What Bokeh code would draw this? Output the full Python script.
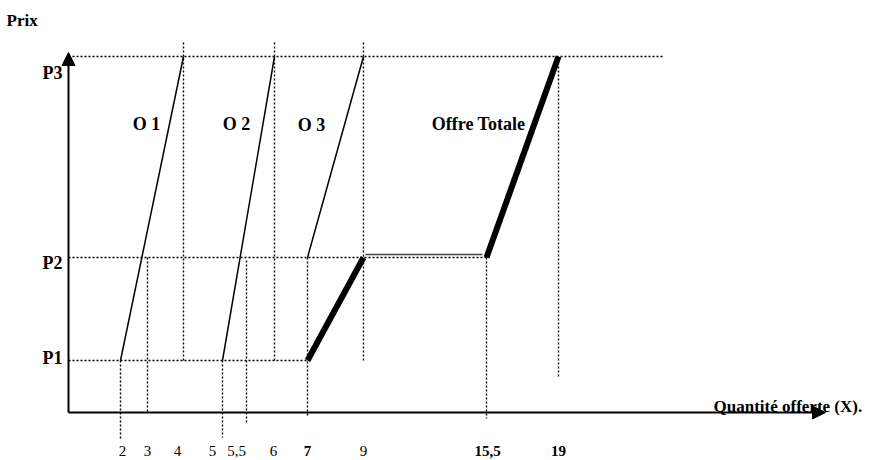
from bokeh.plotting import figure
from bokeh.models import Range1d, Arrow, NormalHead
from bokeh.core.properties import value
from bokeh.embed import file_html
from bokeh.resources import INLINE

# ---- data (schematic diagram, axis not to scale) ----
quantities = ["2", "3", "4", "5", "5,5", "6", "7", "9", "15,5", "19"]
bold_quantities = ["7", "15,5", "19"]
q_pos = [52, 79, 115, 154, 178, 206, 239, 295, 418, 490]   # place of each quantity on the drawn axis
prices = ["P1", "P2", "P3"]
p_pos = [52, 155, 356]                                       # place of each price level on the drawn axis

offre_1 = [("2", "P1"), ("4", "P3")]
offre_2 = [("5", "P1"), ("6", "P3")]
offre_3 = [("7", "P2"), ("9", "P3")]
offre_totale = [("7", "P1"), ("9", "P2"), ("15,5", "P2"), ("19", "P3")]

curve_names = ["O 1", "O 2", "O 3", "Offre Totale"]

qx = dict(zip(quantities, q_pos))
py = dict(zip(prices, p_pos))


def xy(points):
    return [qx[q] for q, _ in points], [py[pp] for _, pp in points]


FONT = value("Liberation Serif")

W, H = 870, 460
p = figure(width=W, height=H, output_backend="svg", toolbar_location=None,
           x_range=Range1d(-68, W - 68), y_range=Range1d(412 - H, 412),
           min_border=0, outline_line_color=None)
p.axis.visible = False
p.grid.visible = False
p.background_fill_color = "white"

# ---- dotted guide lines ----
dot = dict(line_color="black", line_width=1.4, line_dash="2 2")
h_ends = [qx["7"], qx["15,5"], qx["19"] + 105]
p.multi_line([[0, e] for e in h_ends], [[py[l], py[l]] for l in prices], **dot)

v_specs = [
    ("2", py["P1"], -28), ("3", py["P2"], -1), ("4", py["P3"] + 14, py["P1"] - 2),
    ("5", py["P1"], -25), ("5,5", py["P2"] - 3, -10), ("6", py["P3"] + 14, py["P1"] - 2),
    ("7", py["P2"], -5), ("9", py["P3"] + 14, py["P1"] - 2), ("15,5", py["P2"], -6),
    ("19", py["P3"] - 2, 34),
]
p.multi_line([[qx[q], qx[q]] for q, _, _ in v_specs], [[t, b] for _, t, b in v_specs], **dot)

# ---- individual supply curves ----
for curve in (offre_1, offre_2, offre_3):
    xs, ys = xy(curve)
    p.line(xs, ys, line_color="black", line_width=1.5)

# ---- total supply ----
tx, ty = xy(offre_totale)
p.line(tx[0:2], ty[0:2], line_color="black", line_width=6)
p.line([tx[1] + 2, tx[2] - 4], [ty[1] + 3, ty[2] + 3], line_color="#444444", line_width=1.6)
p.line(tx[2:4], ty[2:4], line_color="black", line_width=6)

# ---- axes with arrows ----
head = dict(size=13, fill_color="black", line_color="black", line_width=1)
p.add_layout(Arrow(end=NormalHead(**head), x_start=0, y_start=0, x_end=0, y_end=360,
                   line_width=2, line_color="black"))
p.add_layout(Arrow(end=NormalHead(**head), x_start=0, y_start=0, x_end=757, y_end=0,
                   line_width=2, line_color="black"))

# ---- texts ----
txt = dict(text_font=FONT, text_color="black")
p.text(x=[-62], y=[392], text=["Prix"], text_font_size="17px", text_font_style="bold",
       text_align="left", text_baseline="alphabetic", **txt)
p.text(x=[645], y=[6], text=["Quantité offerte (X)."], text_font_size="17px",
       text_font_style="bold", text_align="left", text_baseline="alphabetic", **txt)

# price labels
p_base_dy = {"P1": 3, "P2": -5, "P3": -16}
p.text(x=[-6] * len(prices), y=[py[l] + p_base_dy[l] for l in prices], text=prices,
       text_font_size="18px", text_font_style="bold", text_align="right",
       text_baseline="alphabetic", **txt)

# curve names
name_x = [78, 168, 243, 410]
name_y = [289, 289, 288, 289]
p.text(x=name_x, y=name_y, text=curve_names, text_font_size="18px", text_font_style="bold",
       text_align="center", text_baseline="alphabetic", **txt)

# quantity tick labels
label_dx = {"2": 2, "3": 0, "4": -6, "5": -10, "5,5": -10, "6": -1, "7": 0, "9": 0,
            "15,5": 1, "19": 0}
reg = [q for q in quantities if q not in bold_quantities]
bld = [q for q in quantities if q in bold_quantities]
p.text(x=[qx[q] + label_dx[q] for q in reg], y=[-38] * len(reg), text=reg,
       text_font_size="15px", text_align="center", text_baseline="alphabetic", **txt)
p.text(x=[qx[q] + label_dx[q] for q in bld], y=[-38] * len(bld), text=bld,
       text_font_size="15px", text_font_style="bold", text_align="center",
       text_baseline="alphabetic", **txt)

open("out.html", "w").write(file_html(p, INLINE))
